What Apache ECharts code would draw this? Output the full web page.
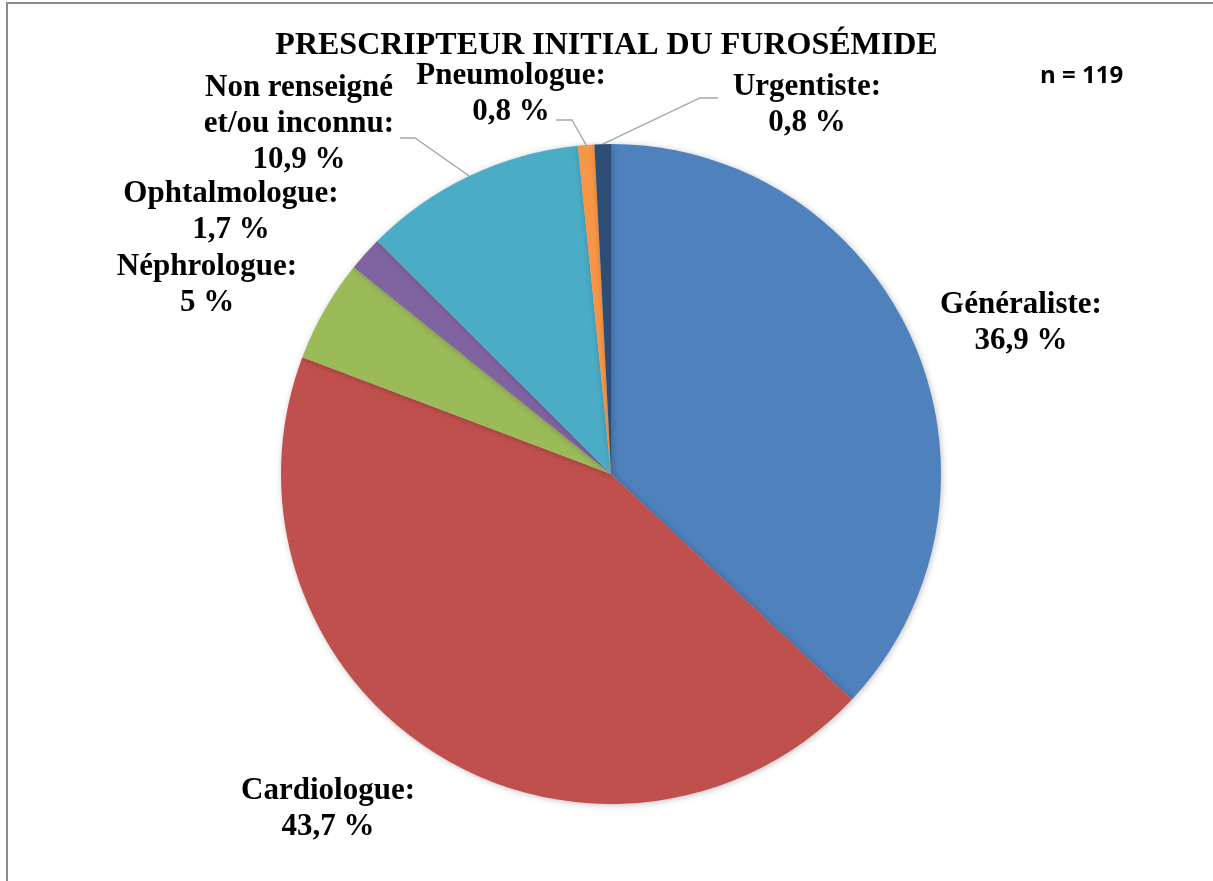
<!doctype html>
<html lang="fr">
<head>
  <meta charset="utf-8">
  <title>Prescripteur initial du furosémide</title>
  <script src="https://cdn.jsdelivr.net/npm/echarts@6/dist/echarts.min.js"></script>
  <style>
    html, body { margin: 0; padding: 0; background: #fff; }
    #chart { width: 1213px; height: 881px; }
  </style>
</head>
<body>
  <div id="chart"></div>
  <script type="text/javascript">
    // data (clockwise from 12 o'clock)
    const categories = ['Généraliste', 'Cardiologue', 'Néphrologue', 'Ophtalmologue', 'Non renseigné\net/ou inconnu', 'Pneumologue', 'Urgentiste'];
    const percents = [36.9, 43.7, 5, 1.7, 10.9, 0.8, 0.8];
    const colors = ['#4F81BD', '#C0504D', '#9BBB59', '#8064A2', '#4BACC6', '#F79646', '#2C4D75'];

    // label centres and leader lines (layout only)
    const labelPos = [
      [1021, 323], [328, 809], [207, 285], [231, 212],
      [299, 124], [511, 94], [807, 105]
    ];
    const leaderLines = {
      4: [[400, 138], [415, 138]],
      5: [[556, 120], [572, 120]],
      6: [[718, 98], [700, 98]]
    };

    const serif = '"Liberation Serif", "DejaVu Serif", serif';
    let chart = echarts.init(document.getElementById('chart'));

    let option = {
      backgroundColor: '#ffffff',
      animation: false,
      title: {
        text: 'PRESCRIPTEUR INITIAL DU FUROSÉMIDE',
        left: 'center',
        top: 25,
        textStyle: { fontFamily: serif, fontWeight: 'bold', fontSize: 32, color: '#000' }
      },
      graphic: [
        {
          type: 'rect',
          shape: { x: 7, y: 3, width: 1300, height: 1000 },
          style: { fill: null, stroke: '#8a8a8a', lineWidth: 2 }
        },
        {
          type: 'text',
          left: 1040, top: 64,
          style: { text: 'n = 119', font: 'bold 24px "Open Sans", "Liberation Sans", sans-serif', fill: '#000' }
        }
      ],
      series: [{
        type: 'pie',
        center: [611, 474],
        radius: [0, 330],
        startAngle: 90,
        clockwise: true,
        itemStyle: {
          shadowBlur: 6,
          shadowColor: 'rgba(0,0,0,0.25)',
          shadowOffsetX: 1,
          shadowOffsetY: 1
        },
        label: {
          show: true,
          formatter: (p) => p.name + ':\n' + String(p.value).replace('.', ',') + ' %',
          fontFamily: serif,
          fontWeight: 'bold',
          fontSize: 31,
          lineHeight: 36,
          color: '#000',
          align: 'center'
        },
        labelLine: { show: true, lineStyle: { color: '#a6a6a6', width: 1.3 } },
        labelLayout: function (params) {
          let i = params.dataIndex;
          let out = {
            x: labelPos[i][0],
            y: labelPos[i][1],
            align: 'center',
            verticalAlign: 'middle'
          };
          if (leaderLines[i]) {
            let pts = params.labelLinePoints;
            let edge = pts ? pts[0] : [0, 0];
            out.labelLinePoints = [leaderLines[i][0], leaderLines[i][1], edge];
          } else {
            out.labelLinePoints = [[0, 0], [0, 0], [0, 0]];
          }
          return out;
        },
        data: categories.map((c, i) => ({
          name: c,
          value: percents[i],
          itemStyle: { color: colors[i] },
          labelLine: { show: !!leaderLines[i] }
        }))
      }]
    };
    chart.setOption(option);
  </script>
</body>
</html>
